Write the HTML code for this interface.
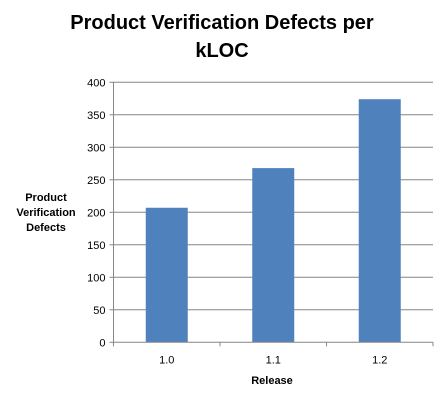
<!DOCTYPE html>
<html><head><meta charset="utf-8"><style>
body{margin:0;background:#fff;font-family:"Liberation Sans",sans-serif;}
svg{display:block}
</style></head><body>
<svg width="443" height="400">
<text x="222" y="29" text-anchor="middle" font-weight="bold" font-size="20">Product Verification Defects  per</text>
<text x="222" y="57" text-anchor="middle" font-weight="bold" font-size="20">kLOC</text>
<g font-weight="bold" font-size="11" text-anchor="middle">
<text x="46" y="201">Product</text><text x="46" y="216">Verification</text><text x="46" y="231">Defects</text></g>
<text x="272" y="384" text-anchor="middle" font-weight="bold" font-size="11">Release</text>
<g id="grid"></g><g id="bars"></g><g id="axes"></g>
</svg>
<script>
const categories=["1.0","1.1","1.2"];
const values=[207,268,374];
const yTicks=[0,50,100,150,200,250,300,350,400];
const NS="http://www.w3.org/2000/svg";
const x0=113.5,x1=433,y0=342.3,yTop=82.3,yMax=400;
const y=v=>y0-(v/yMax)*(y0-yTop);
const bw=(x1-x0)/categories.length;
const g=document.getElementById('grid'),b=document.getElementById('bars'),a=document.getElementById('axes');
function mk(t,at,p){const e=document.createElementNS(NS,t);for(const k in at)e.setAttribute(k,at[k]);p.appendChild(e);return e;}
yTicks.forEach(v=>{
 if(v>0){const l=mk('line',{x1:x0,x2:x1,y1:y(v),y2:y(v),stroke:'#868686','stroke-width':1},g);
 
 }
 const tk=mk('line',{x1:x0-4,x2:x0,y1:y(v),y2:y(v),stroke:'#868686'},a);
 const t=mk('text',{x:x0-8,y:y(v)+4,'text-anchor':'end','font-size':11},a);t.textContent=v;
 
 
});
categories.forEach((c,i)=>{
 const cx=x0+bw*(i+0.5);
 const r=mk('rect',{x:cx-21,y:y(values[i]),width:42,height:y0-y(values[i]),fill:'#4f81bd'},b);
 
 
 const t=mk('text',{x:cx,y:y0+21,'text-anchor':'middle','font-size':11},a);t.textContent=c;
 
 
});
for(let i=0;i<=categories.length;i++){const xx=x0+bw*i;mk('line',{x1:xx,x2:xx,y1:y0,y2:y0+4,stroke:'#868686'},a);}
const ya=mk('line',{x1:x0,x2:x0,y1:yTop,y2:y0,stroke:'#868686'},a);


const xa=mk('line',{x1:x0,x2:x1,y1:y0,y2:y0,stroke:'#868686'},a);


</script>
</body></html>
